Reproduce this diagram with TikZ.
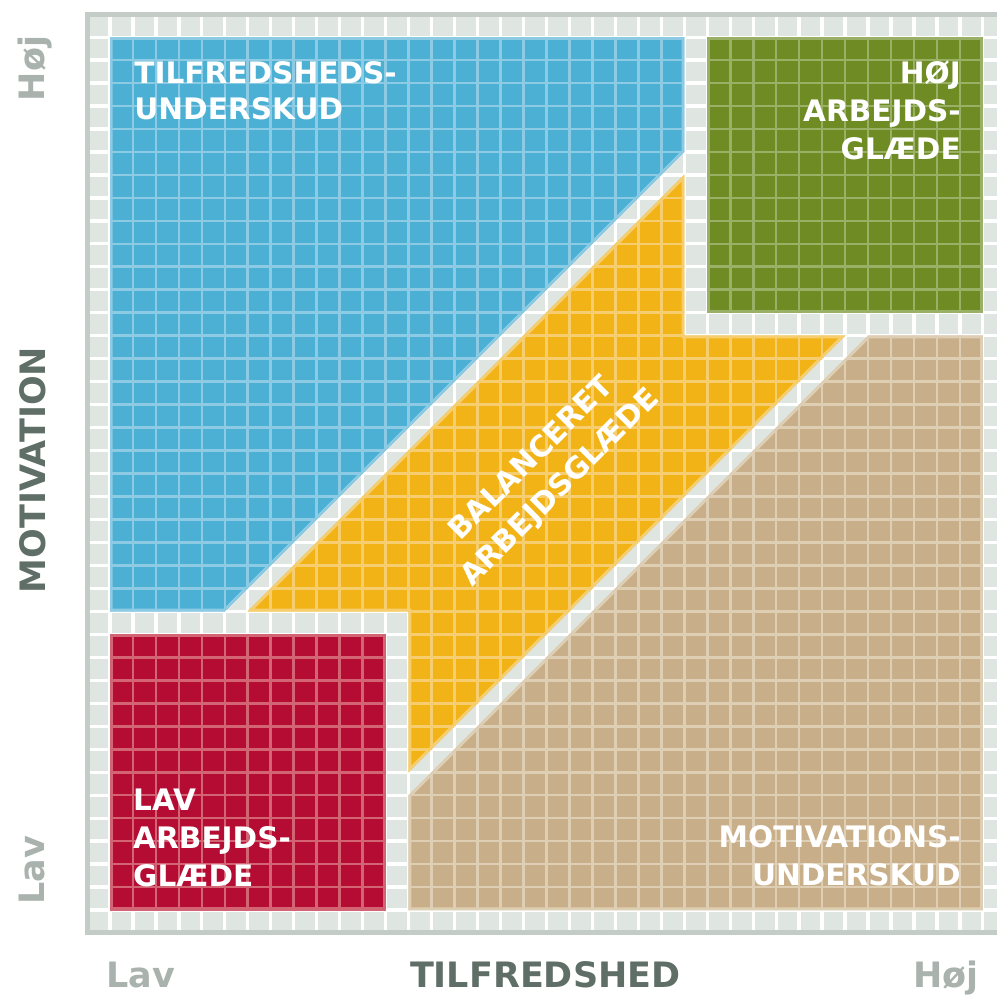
\documentclass[tikz,border=0pt]{standalone}
\usepackage{fontspec}
\setmainfont{DejaVu Sans}

\definecolor{frameline}{HTML}{C4CCC7}
\definecolor{cellbg}{HTML}{DFE5E1}
\definecolor{axisdark}{HTML}{5F6E66}
\definecolor{axislight}{HTML}{AAB2AD}
\definecolor{skyblue}{HTML}{4BB0D3}
\definecolor{skytint}{HTML}{8DCBE4}
\definecolor{olive}{HTML}{6E8C23}
\definecolor{olivetint}{HTML}{9AB066}
\definecolor{wine}{HTML}{B50C34}
\definecolor{winetint}{HTML}{D26474}
\definecolor{amber}{HTML}{F2B316}
\definecolor{ambertint}{HTML}{F6CE70}
\definecolor{sand}{HTML}{C9AF89}
\definecolor{sandtint}{HTML}{DECEB4}

\tikzset{
  cellgrid/.style={white, line width=2.4pt},
  quadlabel/.style={text=white, inner sep=0pt,
    font=\bfseries\fontsize{22}{28.3}\selectfont},
  axistitle/.style={text=axisdark, inner sep=0pt,
    font=\bfseries\fontsize{26}{30}\selectfont},
  axisend/.style={text=axislight, inner sep=0pt,
    font=\bfseries\fontsize{26}{30}\selectfont},
}

% one coloured zone: fill, light grid inside, light rim inside
\newcommand{\zone}[3]{%
  \begin{scope}
    \clip #3;
    \fill[#1] #3;
    \draw[#2, line width=2pt, step=1] (-1,-1) grid (39,39);
    \draw[#2, line width=4pt] #3;
  \end{scope}}

\begin{document}
\begin{tikzpicture}[x=0.6cm, y=0.6cm]
\useasboundingbox (-4.789,-3.744) rectangle (38.616,39.617);
\clip (-4.789,-3.744) rectangle (38.616,39.617);

% background cells
\fill[cellbg] (-1,-1) rectangle (39,39);
\draw[cellgrid, step=1] (-1,-1) grid (39,39);
\draw[frameline, line width=0.132cm] (-0.98,-0.98) rectangle (38.98,38.98);

% zones
\zone{skyblue}{skytint}{(0,13) -- (0,38) -- (25,38) -- (25,33) -- (5,13) -- cycle}
\zone{olive}{olivetint}{(26,26) -- (38,26) -- (38,38) -- (26,38) -- cycle}
\zone{wine}{winetint}{(0,0) -- (12,0) -- (12,12) -- (0,12) -- cycle}
\zone{amber}{ambertint}{(6,13) -- (25,32) -- (25,25) -- (32,25) -- (13,6) -- (13,13) -- cycle}
\zone{sand}{sandtint}{(13,0) -- (13,5) -- (33,25) -- (38,25) -- (38,0) -- cycle}

% zone labels
\node[quadlabel, anchor=north west, align=left] (underskud) at (1.05,36.95)
  {TILFREDSHEDS-\\[-1.5pt]UNDERSKUD};
\node[quadlabel, anchor=north east, align=right] (hoej) at (37.05,37)
  {HØJ\\ARBEJDS-\\GLÆDE};
\node[quadlabel, anchor=south west, align=left] (lav) at (1,1)
  {LAV\\ARBEJDS-\\GLÆDE};
\node[quadlabel, anchor=south east, align=right] (motivunder) at (37.05,1.05)
  {MOTIVATIONS-\\UNDERSKUD};
\node[quadlabel, rotate=45, align=center] (balance) at (19,19)
  {BALANCERET\\[2pt]ARBEJDSGLÆDE};

% axes
\node[axistitle, anchor=base] (xaxis) at (18.95,-3.37) {TILFREDSHED};
\node[axisend, anchor=base] (xlav) at (1.35,-3.37) {Lav};
\node[axisend, anchor=base] (xhoej) at (36.4,-3.37) {Høj};
\node[axistitle, anchor=base, rotate=90] (yaxis) at (-2.79,19.15) {MOTIVATION};
\node[axisend, anchor=base, rotate=90] (ylav) at (-2.85,1.74) {Lav};
\node[axisend, anchor=base, rotate=90] (yhoej) at (-2.85,36.63) {Høj};
\end{tikzpicture}
\end{document}
